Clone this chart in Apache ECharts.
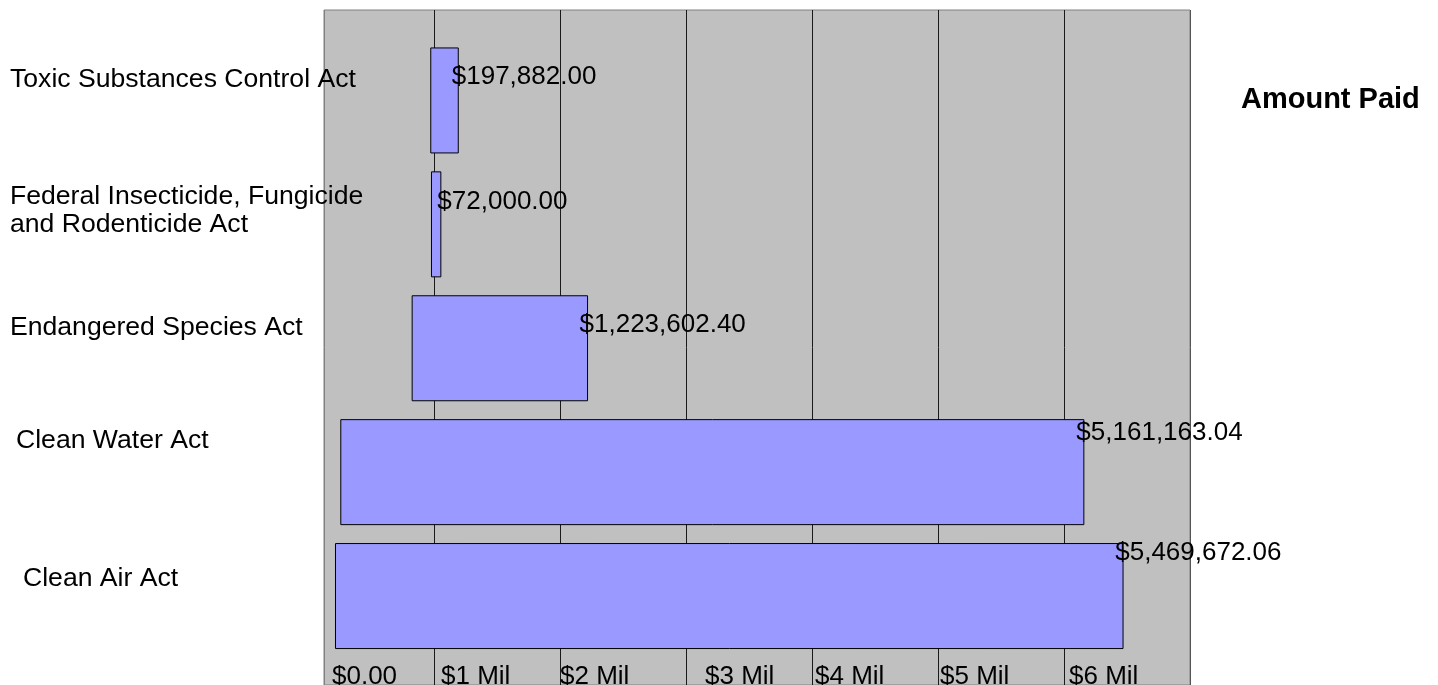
<!DOCTYPE html>
<html>
<head>
<meta charset="utf-8">
<script src="https://cdn.jsdelivr.net/npm/echarts@6/dist/echarts.min.js"></script>
<style>
html,body{margin:0;padding:0;background:#ffffff;}
#chart{width:1438px;height:685px;}
</style>
</head>
<body>
<div id="chart"></div>
<script>
// ---- data ----
const categories = [
  'Toxic Substances Control Act',
  'Federal Insecticide, Fungicide\nand Rodenticide Act',
  'Endangered Species Act',
  'Clean Water Act',
  'Clean Air Act'
];
const amountPaid = [197882.00, 72000.00, 1223602.40, 5161163.04, 5469672.06];
// value at which each drawn bar begins (bars do not share a baseline in the picture)
const barStart = [737000, 742000, 608000, 113000, 76300];
const tickLabels = ['$0.00', '$1 Mil', '$2 Mil', '$3 Mil', '$4 Mil', '$5 Mil', '$6 Mil', ''];
const seriesName = 'Amount Paid';

// ---- styling ----
const FONT = 'Liberation Sans';
const catPadLeft = [0, 0, 0, 6, 13];
const catLift = [41, 27, 41, 63, 35];   // spacer height below each category label
const tickPadLeft = [8, 7, 0, 19, 3, 2, 5, 0];
const valueLabelDx = [-7, -4, -8.5, -8, -8.3];
const valueLabelDy = [-23.5, -22.5, -23, -39, -43];

function money(v) {
  const parts = v.toFixed(2).split('.');
  parts[0] = parts[0].replace(/\B(?=(\d{3})+(?!\d))/g, ',');
  return '$' + parts.join('.');
}

const tickRich = {};
tickPadLeft.forEach((p, i) => {
  tickRich['t' + i] = { fontSize: 26, fontFamily: FONT, color: '#000', padding: [0, 0, 0, p] };
});
const catRich = {};
catPadLeft.forEach((p, i) => {
  catRich['c' + i] = { fontSize: 26.6, lineHeight: 28, fontFamily: FONT, color: '#000', padding: [0, 0, 0, p] };
  catRich['g' + i] = { fontSize: 1, lineHeight: catLift[i], height: catLift[i] };
});

const chart = echarts.init(document.getElementById('chart'), null, { renderer: 'canvas' });
chart.setOption({
  animation: false,
  backgroundColor: '#ffffff',
  textStyle: { fontFamily: FONT },
  legend: {
    data: [seriesName],
    left: 1230,
    top: 80,
    itemWidth: 0,
    itemHeight: 0,
    icon: 'rect',
    selectedMode: false,
    textStyle: { fontSize: 29, fontWeight: 'bold', color: '#000', fontFamily: FONT }
  },
  grid: [
    { // plot background, vertical grid lines and money labels
      left: 324, right: 248, top: 10, bottom: 0,
      show: true, backgroundColor: '#c0c0c0', borderColor: '#808080', borderWidth: 1,
      containLabel: false, outerBoundsMode: 'none'
    },
    { // bars
      left: 324, right: 249, top: 38.5, bottom: 27,
      containLabel: false, outerBoundsMode: 'none'
    }
  ],
  xAxis: [
    {
      gridIndex: 0, type: 'value',
      min: 0.127, max: 7, minInterval: 1, maxInterval: 1, splitNumber: 6,
      axisLine: { show: false }, axisTick: { show: false },
      splitLine: { show: true, lineStyle: { width: 1, color: ['#808080','#1a1a1a','#1a1a1a','#1a1a1a','#1a1a1a','#1a1a1a','#1a1a1a','#555555'] } },
      axisLabel: {
        inside: true, margin: -5, align: 'left', showMinLabel: true, showMaxLabel: true,
        fontSize: 26, color: '#000', fontFamily: FONT,
        formatter: (v, i) => tickLabels[i] ? '{t' + i + '|' + tickLabels[i] + '}' : '',
        rich: tickRich
      }
    },
    {
      gridIndex: 1, type: 'value', min: 0, max: 6000000, show: false
    }
  ],
  yAxis: [
    { gridIndex: 0, type: 'value', min: 0, max: 1, show: false },
    {
      gridIndex: 1, type: 'category', inverse: true,
      data: categories,
      axisLine: { show: false }, axisTick: { show: false }, splitLine: { show: false },
      axisLabel: {
        interval: 0, margin: 314, align: 'left', verticalAlign: 'middle',
        fontSize: 26.6, lineHeight: 28, color: '#000', fontFamily: FONT,
        formatter: (v, i) => v.split('\n').map(l => '{c' + i + '|' + l + '}').join('\n') + '\n{g' + i + '| }',
        rich: catRich
      }
    }
  ],
  series: [
    {
      name: 'start', type: 'bar', stack: 'a', xAxisIndex: 1, yAxisIndex: 1,
      data: barStart, barWidth: 106, silent: true,
      itemStyle: { color: 'rgba(0,0,0,0)' }, label: { show: false }
    },
    {
      name: seriesName, type: 'bar', stack: 'a', xAxisIndex: 1, yAxisIndex: 1,
      barWidth: 106,
      data: amountPaid.map((v, i) => ({ value: v, label: { offset: [valueLabelDx[i], valueLabelDy[i]] } })),
      itemStyle: { color: '#9999ff', borderColor: '#000000', borderWidth: 1 },
      label: {
        show: true, position: 'right', distance: 0,
        fontSize: 26, color: '#000', fontFamily: FONT,
        formatter: p => money(p.value)
      }
    }
  ]
});
</script>
</body>
</html>
